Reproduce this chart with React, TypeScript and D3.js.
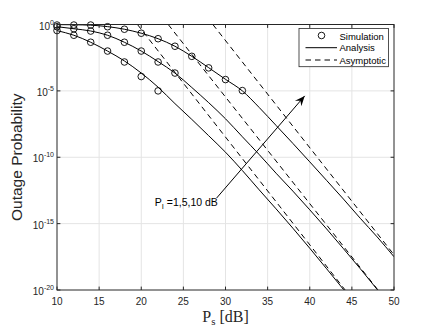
import React from 'react';
import * as d3 from 'd3';

// P_s in dB for the analysis curves
const analysisDb = [10, 12, 14, 16, 18, 20, 22, 24, 26, 28, 30, 32, 34, 36, 38, 40, 42, 44, 46, 48, 50];

// outage probability, analysis (P_I = 1, 5, 10 dB)
const analysisP1 = [0.347, 0.155, 4.6e-2, 1.0e-2, 1.8e-3, 2.2e-4, 1.9e-5, 1.1e-6, 7.1e-8, 4.2e-9, 2.4e-10,
  1.0e-11, 3.5e-13, 1.3e-14, 4.5e-16, 1.4e-17, 4.0e-19, 1.1e-20, 3.2e-22];
const analysisP5 = [0.684, 0.479, 0.324, 0.155, 4.6e-2, 1.0e-2, 1.6e-3, 2.2e-4, 1.8e-5, 1.3e-6, 7.9e-8,
  3.5e-9, 1.6e-10, 6.3e-12, 2.8e-13, 1.1e-14, 4.0e-16, 1.3e-17, 4.0e-19, 1.1e-20, 3.2e-22];
const analysisP10 = [0.98, 0.955, 0.89, 0.69, 0.44, 0.22, 8.5e-2, 2.3e-2, 4.0e-3, 5.6e-4, 7.4e-5,
  1.0e-5, 5.6e-7, 2.5e-8, 1.1e-9, 4.5e-11, 1.8e-12, 7.1e-14, 2.5e-15, 1.0e-16, 3.2e-18];

// simulation points
const simDb = [10, 12, 14, 16, 18, 20, 22, 24, 26, 28, 30, 32];
const simP1 = [0.35, 0.155, 4.6e-2, 1.0e-2, 1.5e-3, 1.2e-4, 1.0e-5];
const simP5 = [0.68, 0.48, 0.32, 0.155, 4.6e-2, 1.0e-2, 1.5e-3, 2.2e-4];
const simP10 = [0.91, 0.91, 0.91, 0.68, 0.44, 0.22, 8.5e-2, 2.3e-2, 4.0e-3, 5.4e-4, 7.1e-5, 1.05e-5];

// asymptotic lines: [dB, probability] end points
const asymP1: [number, number][] = [[19.55, 1], [44.2, 1e-20]];
const asymP5: [number, number][] = [[23.2, 1], [48.1, 1e-20]];
const asymP10: [number, number][] = [[28.5, 1], [50, 4.5e-18]];

const xTicks = [10, 15, 20, 25, 30, 35, 40, 45, 50];
const yTickExps = [0, -5, -10, -15, -20];

// annotation arrow, data coords
const arrowFrom: [number, number] = [28.95, 8.5e-14];
const arrowTo: [number, number] = [39.4, 4.2e-6];
const noteAt: [number, number] = [21.6, 4.5e-14];

const W = 436, H = 327;
const left = 57, right = 394, top = 24.5, bottom = 290;

const x = d3.scaleLinear().domain([10, 50]).range([left, right]);
const y = d3.scaleLog().domain([1e-20, 1]).range([bottom, top]);

const line = d3.line<[number, number]>()
  .x(d => x(d[0]))
  .y(d => y(d[1]))
  .curve(d3.curveMonotoneX);

const straight = d3.line<[number, number]>()
  .x(d => x(d[0]))
  .y(d => y(d[1]));

const pairs = (xs: number[], vs: number[]) => vs.map((v, i) => [xs[i], v] as [number, number]);

const axisColor = '#262626';
const gridColor = '#e4e4e4';

export default function App() {
  const analysis = [analysisP1, analysisP5, analysisP10];
  const sims = [simP1, simP5, simP10];
  const asym = [asymP1, asymP5, asymP10];

  const ax0 = x(arrowFrom[0]), ay0 = y(arrowFrom[1]);
  const ax1 = x(arrowTo[0]), ay1 = y(arrowTo[1]);
  const ang = Math.atan2(ay1 - ay0, ax1 - ax0) * 180 / Math.PI;

  return (
    <svg width={W} height={H} style={{ position: 'absolute', left: 0, top: 0 }}
      fontFamily="'Liberation Sans', Arial, Helvetica, sans-serif">
      <defs>
        <clipPath id="plotArea">
          <rect x={left} y={top} width={right - left} height={bottom - top} />
        </clipPath>
      </defs>
      <rect width={W} height={H} fill="#fff" />

      {/* grid */}
      {xTicks.slice(1, -1).map(t => (
        <line key={'gx' + t} x1={x(t)} x2={x(t)} y1={top} y2={bottom} stroke={gridColor} strokeWidth={1} />
      ))}
      {yTickExps.slice(1, -1).map(e => (
        <line key={'gy' + e} x1={left} x2={right} y1={y(10 ** e)} y2={y(10 ** e)} stroke={gridColor} strokeWidth={1} />
      ))}

      {/* curves */}
      <g clipPath="url(#plotArea)" fill="none" stroke="#000" strokeWidth={1}>
        {analysis.map((vs, i) => (
          <path key={'a' + i} d={line(pairs(analysisDb, vs)) || ''} />
        ))}
        {asym.map((pts, i) => (
          <path key={'s' + i} d={straight(pts) || ''} strokeDasharray="5.5,4" />
        ))}
      </g>
      <g fill="none" stroke="#000" strokeWidth={0.9}>
        {sims.map((vs, i) => vs.map((v, j) => (
          <circle key={'c' + i + '-' + j} cx={x(simDb[j])} cy={y(v)} r={3.3} />
        )))}
      </g>

      {/* axes box and ticks */}
      <rect x={left} y={top} width={right - left} height={bottom - top} fill="none" stroke={axisColor} strokeWidth={1} />
      {xTicks.map(t => (
        <g key={'tx' + t} stroke={axisColor}>
          <line x1={x(t)} x2={x(t)} y1={bottom} y2={bottom - 3.4} />
          <line x1={x(t)} x2={x(t)} y1={top} y2={top + 3.4} />
        </g>
      ))}
      {yTickExps.map(e => (
        <g key={'ty' + e} stroke={axisColor}>
          <line x1={left} x2={left + 3.4} y1={y(10 ** e)} y2={y(10 ** e)} />
          <line x1={right} x2={right - 3.4} y1={y(10 ** e)} y2={y(10 ** e)} />
        </g>
      ))}
      {xTicks.map(t => (
        <text key={'lx' + t} x={x(t)} y={304.5} textAnchor="middle" fontSize={10} fill={axisColor}>{t}</text>
      ))}
      {yTickExps.map(e => (
        <text key={'ly' + e} x={54} y={y(10 ** e) + 5} textAnchor="end" fontSize={10} fill={axisColor}>
          10<tspan fontSize={7} dy={-5}>{e === 0 ? '0' : '-' + Math.abs(e)}</tspan>
        </text>
      ))}

      {/* axis labels */}
      <text transform={`translate(21.5,${(top + bottom) / 2}) rotate(-90)`} textAnchor="middle" fontSize={15.5} fill={axisColor}>
        Outage Probability
      </text>
      <text x={(left + right) / 2} y={321.5} textAnchor="middle" fontSize={16}
        fontFamily="'Liberation Serif', 'Times New Roman', serif" fill={axisColor}>
        P<tspan fontSize={11} dy={3}>s</tspan><tspan dy={-3}> [dB]</tspan>
      </text>

      {/* legend */}
      <g>
        <rect x={299} y={28.5} width={89.5} height={38.2} fill="#fff" stroke={axisColor} strokeWidth={0.8} />
        <circle cx={321.5} cy={35.5} r={3.3} fill="none" stroke="#000" strokeWidth={0.9} />
        <line x1={305.5} x2={337} y1={47.7} y2={47.7} stroke="#000" strokeWidth={1} />
        <line x1={305.5} x2={337} y1={60} y2={60} stroke="#000" strokeWidth={1} strokeDasharray="5.5,4" />
        <text x={339.5} y={39.5} fontSize={9.5} fill="#000">Simulation</text>
        <text x={339.5} y={51.2} fontSize={9.5} fill="#000">Analysis</text>
        <text x={339.5} y={63.5} fontSize={9.5} fill="#000">Asymptotic</text>
      </g>

      {/* annotation */}
      <line x1={ax0} y1={ay0} x2={ax1} y2={ay1} stroke="#000" strokeWidth={1} />
      <path transform={`translate(${ax1},${ay1}) rotate(${ang})`} d="M0,0 L-10,-4.2 L-6.5,0 L-10,4.2 Z" fill="#000" />
      <text x={x(noteAt[0])} y={y(noteAt[1]) + 4} fontSize={10.5} fill="#000">
        P<tspan fontSize={7.5} dy={3}>I</tspan><tspan dy={-3}> =1,5,10 dB</tspan>
      </text>
    </svg>
  );
}
